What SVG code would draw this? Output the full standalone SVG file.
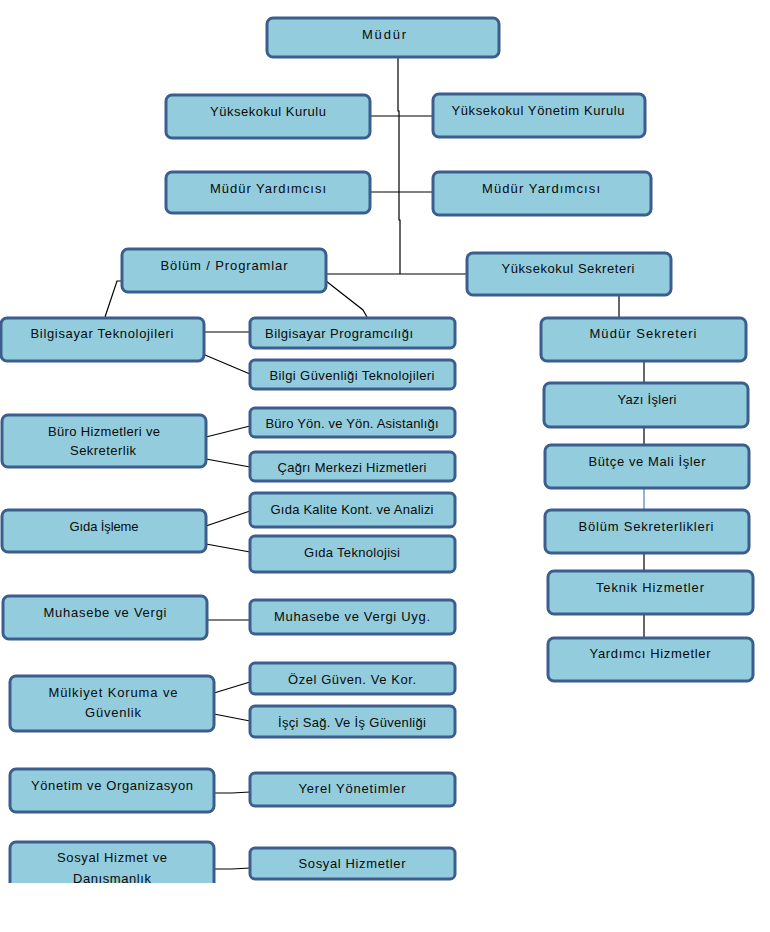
<svg xmlns="http://www.w3.org/2000/svg" width="770" height="932" viewBox="0 0 770 932">
<style>
.b{fill:#93cddd;stroke:#3b5e8e;stroke-width:3}
.t{font-family:"Liberation Sans",Arial,sans-serif;font-size:13px;fill:#0a0a0a;text-anchor:middle}
.c{fill:none;stroke:#000;stroke-width:1.2}
</style>
<defs><clipPath id="clip"><rect x="0" y="0" width="770" height="883"/></clipPath></defs>
<rect width="770" height="932" fill="#fff"/>
<g id="connectors">
<polyline class="c" points="398,57 398,111 399,111 399,220 400,220 400,274"/>
<line class="c" x1="370" y1="116" x2="433" y2="116"/>
<line class="c" x1="370" y1="192" x2="433" y2="192"/>
<line class="c" x1="326" y1="274" x2="467" y2="274"/>
<polyline class="c" points="122,281 117,281 105,317"/>
<polyline class="c" points="326,281 363,310 367,317"/>
<line class="c" x1="204" y1="332" x2="250" y2="332"/>
<line class="c" x1="205" y1="355" x2="250" y2="374"/>
<line class="c" x1="206" y1="437" x2="250" y2="426"/>
<line class="c" x1="206" y1="459" x2="250" y2="467"/>
<line class="c" x1="206" y1="526" x2="250" y2="511"/>
<line class="c" x1="206" y1="544" x2="250" y2="552"/>
<line class="c" x1="207" y1="620" x2="250" y2="620"/>
<line class="c" x1="214" y1="693" x2="250" y2="682"/>
<line class="c" x1="214" y1="714" x2="250" y2="721"/>
<polyline class="c" points="214,793 232,793 250,792"/>
<polyline class="c" points="214,869 232,869 250,868"/>
<line class="c" x1="619" y1="295" x2="619" y2="318"/>
<line class="c" x1="644" y1="361" x2="644" y2="383"/>
<line class="c" x1="644" y1="427" x2="644" y2="445"/>
<line class="c" x1="644" y1="488" x2="644" y2="510" style="stroke:#4f81bd"/>
<line class="c" x1="644" y1="553" x2="644" y2="571"/>
<line class="c" x1="644" y1="614" x2="644" y2="638"/>
</g>
<g id="mudur"><rect class="b" x="267" y="18" width="232" height="39" rx="6"/><text class="t" x="384" y="38.5" textLength="44" lengthAdjust="spacing">Müdür</text></g>
<g id="yk-kurulu"><rect class="b" x="166" y="95" width="204" height="43" rx="6"/><text class="t" x="268" y="116" textLength="116" lengthAdjust="spacing">Yüksekokul Kurulu</text></g>
<g id="yk-yonetim"><rect class="b" x="433" y="94" width="212" height="43" rx="6"/><text class="t" x="538" y="115" textLength="173" lengthAdjust="spacing">Yüksekokul Yönetim Kurulu</text></g>
<g id="mudur-yrd-1"><rect class="b" x="166" y="172" width="204" height="41" rx="6"/><text class="t" x="268" y="193" textLength="116" lengthAdjust="spacing">Müdür Yardımcısı</text></g>
<g id="mudur-yrd-2"><rect class="b" x="433" y="172" width="218" height="43" rx="6"/><text class="t" x="541" y="193" textLength="118" lengthAdjust="spacing">Müdür Yardımcısı</text></g>
<g id="bolum"><rect class="b" x="122" y="249" width="204" height="43" rx="6"/><text class="t" x="224" y="270" textLength="127" lengthAdjust="spacing">Bölüm / Programlar</text></g>
<g id="yk-sekreter"><rect class="b" x="467" y="253" width="204" height="42" rx="6"/><text class="t" x="568" y="273" textLength="133" lengthAdjust="spacing">Yüksekokul Sekreteri</text></g>
<g id="bt"><rect class="b" x="1" y="318" width="203" height="43" rx="6"/><text class="t" x="102" y="338" textLength="143" lengthAdjust="spacing">Bilgisayar Teknolojileri</text></g>
<g id="bp"><rect class="b" x="250" y="318" width="205" height="30" rx="5"/><text class="t" x="339" y="338" textLength="148" lengthAdjust="spacing">Bilgisayar Programcılığı</text></g>
<g id="bgt"><rect class="b" x="250" y="360" width="205" height="29" rx="5"/><text class="t" x="352" y="380" textLength="165" lengthAdjust="spacing">Bilgi Güvenliği Teknolojileri</text></g>
<g id="buro"><rect class="b" x="2" y="415" width="204" height="52" rx="6"/><text class="t" x="104" y="436" textLength="112" lengthAdjust="spacing">Büro Hizmetleri ve</text><text class="t" x="103" y="455" textLength="66" lengthAdjust="spacing">Sekreterlik</text></g>
<g id="byya"><rect class="b" x="250" y="408" width="205" height="29" rx="5"/><text class="t" x="352" y="428" textLength="173" lengthAdjust="spacing">Büro Yön. ve Yön. Asistanlığı</text></g>
<g id="cmh"><rect class="b" x="250" y="452" width="205" height="29" rx="5"/><text class="t" x="352" y="472" textLength="149" lengthAdjust="spacing">Çağrı Merkezi Hizmetleri</text></g>
<g id="gida"><rect class="b" x="2" y="510" width="204" height="42" rx="6"/><text class="t" x="104" y="531" textLength="69" lengthAdjust="spacing">Gıda İşleme</text></g>
<g id="gkka"><rect class="b" x="250" y="493" width="205" height="34" rx="5"/><text class="t" x="352" y="514" textLength="163" lengthAdjust="spacing">Gıda Kalite Kont. ve Analizi</text></g>
<g id="gt"><rect class="b" x="250" y="536" width="205" height="36" rx="5"/><text class="t" x="352" y="557" textLength="96" lengthAdjust="spacing">Gıda Teknolojisi</text></g>
<g id="muh"><rect class="b" x="3" y="596" width="204" height="43" rx="6"/><text class="t" x="105" y="617" textLength="123" lengthAdjust="spacing">Muhasebe ve Vergi</text></g>
<g id="muhu"><rect class="b" x="250" y="600" width="205" height="34" rx="5"/><text class="t" x="352" y="621" textLength="156" lengthAdjust="spacing">Muhasebe ve Vergi Uyg.</text></g>
<g id="mulk"><rect class="b" x="10" y="676" width="204" height="55" rx="6"/><text class="t" x="113" y="697" textLength="129" lengthAdjust="spacing">Mülkiyet Koruma ve</text><text class="t" x="113" y="717" textLength="56" lengthAdjust="spacing">Güvenlik</text></g>
<g id="ozel"><rect class="b" x="250" y="663" width="205" height="31" rx="5"/><text class="t" x="352" y="684" textLength="128" lengthAdjust="spacing">Özel Güven. Ve Kor.</text></g>
<g id="isci"><rect class="b" x="250" y="706" width="205" height="31" rx="5"/><text class="t" x="352" y="727" textLength="148" lengthAdjust="spacing">İşçi Sağ. Ve İş Güvenliği</text></g>
<g id="yon"><rect class="b" x="10" y="769" width="204" height="43" rx="6"/><text class="t" x="112" y="790" textLength="162" lengthAdjust="spacing">Yönetim ve Organizasyon</text></g>
<g id="yerel"><rect class="b" x="250" y="773" width="205" height="33" rx="5"/><text class="t" x="352" y="793" textLength="107" lengthAdjust="spacing">Yerel Yönetimler</text></g>
<g id="sosyal" clip-path="url(#clip)"><rect class="b" x="10" y="842" width="204" height="60" rx="6"/><text class="t" x="112" y="862" textLength="110" lengthAdjust="spacing">Sosyal Hizmet ve</text><text class="t" x="112" y="883" textLength="78" lengthAdjust="spacing">Danışmanlık</text></g>
<g id="sosyalh"><rect class="b" x="250" y="848" width="205" height="31" rx="5"/><text class="t" x="352" y="868" textLength="107" lengthAdjust="spacing">Sosyal Hizmetler</text></g>
<g id="ms"><rect class="b" x="541" y="318" width="205" height="43" rx="6"/><text class="t" x="643" y="338" textLength="107" lengthAdjust="spacing">Müdür Sekreteri</text></g>
<g id="yazi"><rect class="b" x="544" y="383" width="204" height="44" rx="6"/><text class="t" x="647" y="404" textLength="59" lengthAdjust="spacing">Yazı İşleri</text></g>
<g id="butce"><rect class="b" x="545" y="445" width="204" height="43" rx="6"/><text class="t" x="647" y="466" textLength="117" lengthAdjust="spacing">Bütçe ve Mali İşler</text></g>
<g id="bolsek"><rect class="b" x="545" y="510" width="204" height="43" rx="6"/><text class="t" x="646" y="531" textLength="135" lengthAdjust="spacing">Bölüm Sekreterlikleri</text></g>
<g id="teknik"><rect class="b" x="548" y="571" width="205" height="43" rx="6"/><text class="t" x="650" y="592" textLength="108" lengthAdjust="spacing">Teknik Hizmetler</text></g>
<g id="yardimci"><rect class="b" x="548" y="638" width="205" height="43" rx="6"/><text class="t" x="650" y="658" textLength="121" lengthAdjust="spacing">Yardımcı Hizmetler</text></g>
</svg>
